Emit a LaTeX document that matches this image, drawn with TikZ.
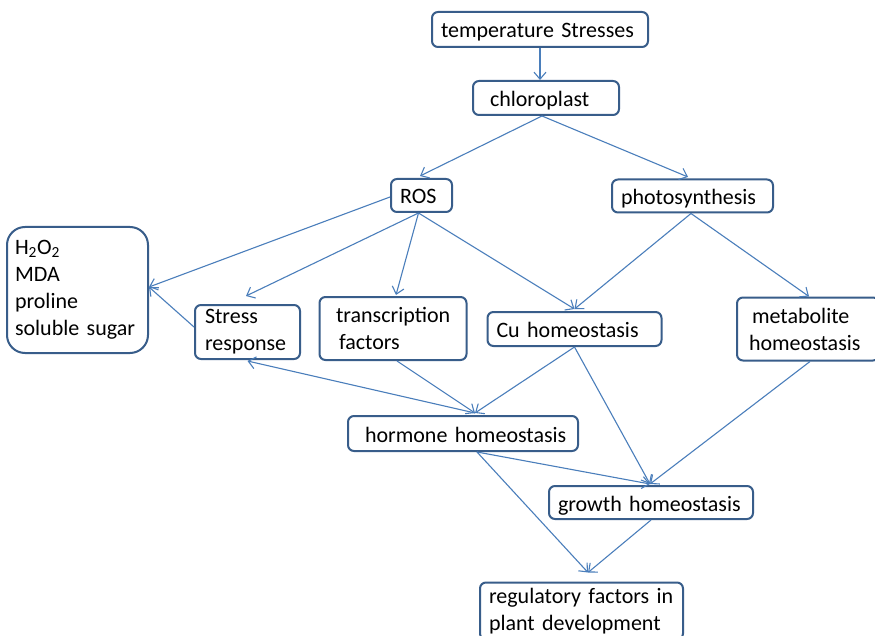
\documentclass[tikz,border=0pt]{standalone}
\usepackage{fontspec}
\setmainfont{Carlito}
\usetikzlibrary{arrows.meta,calc}
\definecolor{boxc}{HTML}{385D8A}
\definecolor{arrc}{HTML}{4A7EBB}
\tikzset{
  bx/.style={draw=boxc, line width=2pt, rounded corners=6pt, fill=white,
    align=left, font=\fontsize{22}{27}\selectfont, inner ysep=0pt, anchor=center},
  oneline/.style={text height=17pt, text depth=0pt},
  conn/.style={draw=arrc, line width=1.1pt, -{Straight Barb[length=7pt,width=12pt,line width=1.1pt]}}
}
\begin{document}
\begin{tikzpicture}[x=1pt,y=-1pt]
\clip (0,0) rectangle (875,636);
\fill[white] (0,0) rectangle (875,636);
% nodes
\node[bx, oneline, minimum width=216pt, minimum height=35pt, text width=198pt, inner xsep=9pt] (temp) at (540,29.5) {temperature Stresses};
\node[bx, oneline, minimum width=146pt, minimum height=34pt, text width=112pt, inner xsep=17pt] (chl) at (546,98) {chloroplast};
\node[bx, oneline, minimum width=61pt, minimum height=33pt, text width=43pt, inner xsep=9pt] (ros) at (421.5,195.5) {ROS};
\node[bx, oneline, minimum width=161pt, minimum height=33pt, text width=143pt, inner xsep=9pt] (pho) at (692.5,196) {photosynthesis};
\node[bx, rounded corners=18pt, minimum width=141pt, minimum height=126pt, text width=125pt, inner xsep=8pt] (h2o) at (77.5,290) {H\textsubscript{2}O\textsubscript{2}\\MDA\\proline\\soluble sugar};
\node[bx, minimum width=105pt, minimum height=54pt, text width=85pt, inner xsep=10pt] (str) at (247.5,332) {Stress\\response};
\node[bx, minimum width=147pt, minimum height=63pt, text width=122pt, inner xsep=12.5pt] (tf) at (393,328.5) {\hspace*{4pt}transcription\\\hspace*{7pt}factors};
\node[bx, oneline, minimum width=174pt, minimum height=34pt, text width=156pt, inner xsep=9pt] (cu) at (574.5,329) {Cu homeostasis};
\node[bx, minimum width=142pt, minimum height=63pt, text width=118pt, inner xsep=12pt] (met) at (808,329) {\hspace*{3pt}metabolite\\homeostasis};
\node[bx, oneline, minimum width=230pt, minimum height=35pt, text width=208pt, inner xsep=11pt] (hor) at (463,433.5) {\hspace*{6pt}hormone homeostasis};
\node[bx, oneline, minimum width=204pt, minimum height=33pt, text width=186pt, inner xsep=9pt] (gro) at (651,502.5) {growth homeostasis};
\node[bx, minimum width=203pt, minimum height=57pt, text width=185pt, inner xsep=9pt] (reg) at (581.5,611) {regulatory factors in\\plant development};
% connectors
\draw[conn] (temp.south) -- (temp.south |- chl.north);
\draw[conn] ([xshift=-4pt]chl.south) -- ([xshift=-1.5pt,yshift=2pt]ros.north);
\draw[conn] ([xshift=-4pt]chl.south) -- ([xshift=-4.5pt,yshift=1.5pt]pho.north);
\draw[conn] ([yshift=-1.5pt]ros.west) -- ([yshift=3pt]h2o.east);
\draw[conn] ([xshift=-3pt]ros.south) -- ([xshift=-1.5pt,yshift=8pt]str.north);
\draw[conn] ([xshift=-3pt]ros.south) -- ([xshift=3pt,yshift=1pt]tf.north);
\draw[conn] ([xshift=-3pt]ros.south) -- ([yshift=2pt]cu.north);
\draw[conn] ([xshift=-1.5pt]pho.south) -- ([yshift=2pt]cu.north);
\draw[conn] ([xshift=-1.5pt]pho.south) -- ([xshift=1pt]met.north);
\draw[conn] ([yshift=5pt]str.west) -- ([yshift=3pt]h2o.east);
\draw[conn] ([xshift=12pt,yshift=2pt]hor.north) -- ([yshift=-1pt]str.south);
\draw[conn] ([xshift=4pt]tf.south) -- ([xshift=12pt,yshift=2pt]hor.north);
\draw[conn] (cu.south) -- ([xshift=12pt,yshift=2pt]hor.north);
\draw[conn] (cu.south) -- ([xshift=-1pt,yshift=1pt]gro.north);
\draw[conn] ([xshift=2pt]met.south) -- ([xshift=-1pt,yshift=1pt]gro.north);
\draw[conn] ([xshift=14pt]hor.south) -- ([xshift=-1pt,yshift=1pt]gro.north);
\draw[conn] ([xshift=14pt]hor.south) -- ([xshift=6.5pt,yshift=9pt]reg.north);
\draw[conn] (gro.south) -- ([xshift=6.5pt,yshift=9pt]reg.north);
\end{tikzpicture}
\end{document}
